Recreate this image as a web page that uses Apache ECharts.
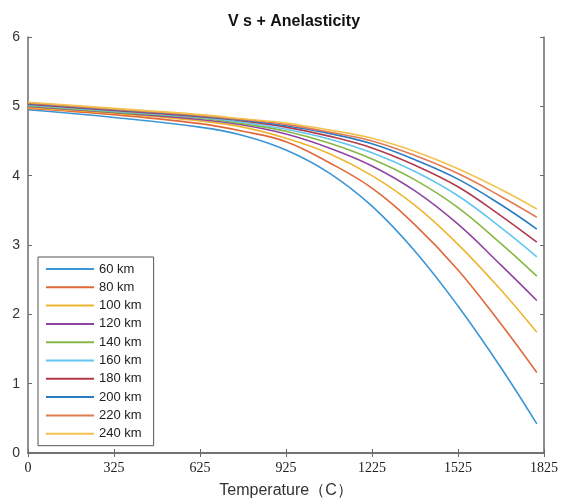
<!DOCTYPE html>
<html>
<head>
<meta charset="utf-8">
<script src="https://cdn.jsdelivr.net/npm/echarts@6/dist/echarts.min.js"></script>
<style>
  html, body { margin: 0; padding: 0; background: #fff; }
  #chart { width: 561px; height: 504px; }
</style>
</head>
<body>
<div id="chart"></div>
<script>
// temperatures (C) where values were read
var temps = [25, 325, 625, 775, 925, 1075, 1225, 1375, 1525, 1675, 1800];
var depths = ['60 km', '80 km', '100 km', '120 km', '140 km', '160 km', '180 km', '200 km', '220 km', '240 km'];
// Vs per depth, one array per curve
var vs60  = [4.95, 4.84, 4.70, 4.58, 4.37, 4.04, 3.56, 2.91, 2.12, 1.23, 0.42];
var vs80  = [4.97, 4.88, 4.75, 4.64, 4.49, 4.19, 3.82, 3.29, 2.64, 1.86, 1.16];
var vs100 = [4.98, 4.90, 4.79, 4.70, 4.54, 4.32, 4.00, 3.57, 3.01, 2.35, 1.74];
var vs120 = [5.00, 4.91, 4.81, 4.73, 4.60, 4.40, 4.14, 3.78, 3.30, 2.71, 2.20];
var vs140 = [5.01, 4.92, 4.83, 4.75, 4.64, 4.47, 4.24, 3.94, 3.54, 3.02, 2.55];
var vs160 = [5.02, 4.93, 4.84, 4.77, 4.67, 4.53, 4.33, 4.06, 3.71, 3.25, 2.83];
var vs180 = [5.03, 4.94, 4.85, 4.79, 4.70, 4.57, 4.40, 4.15, 3.84, 3.42, 3.04];
var vs200 = [5.04, 4.95, 4.86, 4.80, 4.72, 4.61, 4.46, 4.23, 3.95, 3.58, 3.23];
var vs220 = [5.05, 4.96, 4.87, 4.81, 4.74, 4.63, 4.50, 4.29, 4.03, 3.70, 3.40];
var vs240 = [5.06, 4.97, 4.88, 4.82, 4.76, 4.66, 4.54, 4.35, 4.10, 3.80, 3.52];
var xTicks = ['0', '325', '625', '925', '1225', '1525', '1825'];

var allVs = [vs60, vs80, vs100, vs120, vs140, vs160, vs180, vs200, vs220, vs240];
var colors = ['#3a96d6', '#e0683a', '#eeb530', '#8e44a0', '#86b846', '#62c6f0', '#b23a4c', '#2a7cc4', '#e27a52', '#f2c24e'];

var series = depths.map(function (name, i) {
  return {
    name: name,
    type: 'line',
    smooth: 0.4,
    symbol: 'none',
    lineStyle: { width: 1.6, color: colors[i] },
    itemStyle: { color: colors[i] },
    data: temps.map(function (t, j) { return [t, allVs[i][j]]; })
  };
});

var chart = echarts.init(document.getElementById('chart'));
var axisLine = { show: true, lineStyle: { color: '#6b6b6b', width: 1.5 } };
var tick = { show: true, inside: true, length: 4, lineStyle: { color: '#6b6b6b' } };
chart.setOption({
  animation: false,
  color: colors,
  title: {
    text: 'V s + Anelasticity',
    left: 289,
    textAlign: 'center',
    top: 9,
    textStyle: { fontFamily: 'Liberation Sans', fontSize: 16, fontWeight: 'bold', color: '#111' }
  },
  grid: { left: 28, right: 13, top: 37, bottom: 49 },
  legend: {
    orient: 'vertical',
    left: 38,
    top: 257,
    icon: 'rect',
    itemWidth: 48,
    itemHeight: 2,
    itemGap: 4.3,
    padding: [5, 12, 5, 8],
    borderColor: '#555',
    borderWidth: 1,
    backgroundColor: '#fff',
    textStyle: { fontFamily: 'Liberation Sans', fontSize: 13, lineHeight: 14, color: '#222' },
    data: depths
  },
  xAxis: [{
    type: 'value',
    min: 25,
    max: 1825,
    interval: 300,
    name: 'Temperature（C）',
    nameLocation: 'middle',
    nameGap: 30,
    nameTextStyle: { fontFamily: 'Liberation Sans', fontSize: 16, color: '#333' },
    axisLine: axisLine,
    axisTick: tick,
    axisLabel: {
      fontFamily: 'Liberation Serif', fontSize: 14, color: '#222', margin: 8,
      formatter: function (v) { return xTicks[Math.round((v - 25) / 300)]; }
    },
    splitLine: { show: false }
  }, {
    type: 'value',
    position: 'top',
    min: 25,
    max: 1825,
    interval: 300,
    axisLine: axisLine,
    axisTick: tick,
    axisLabel: { show: false },
    splitLine: { show: false }
  }],
  yAxis: [{
    type: 'value',
    min: 0,
    max: 6,
    interval: 1,
    axisLine: axisLine,
    axisTick: tick,
    axisLabel: { fontFamily: 'Liberation Sans', fontSize: 14, color: '#333', margin: 8 },
    splitLine: { show: false }
  }, {
    type: 'value',
    position: 'right',
    min: 0,
    max: 6,
    interval: 1,
    axisLine: axisLine,
    axisTick: tick,
    axisLabel: { show: false },
    splitLine: { show: false }
  }],
  series: series
});
</script>
</body>
</html>
